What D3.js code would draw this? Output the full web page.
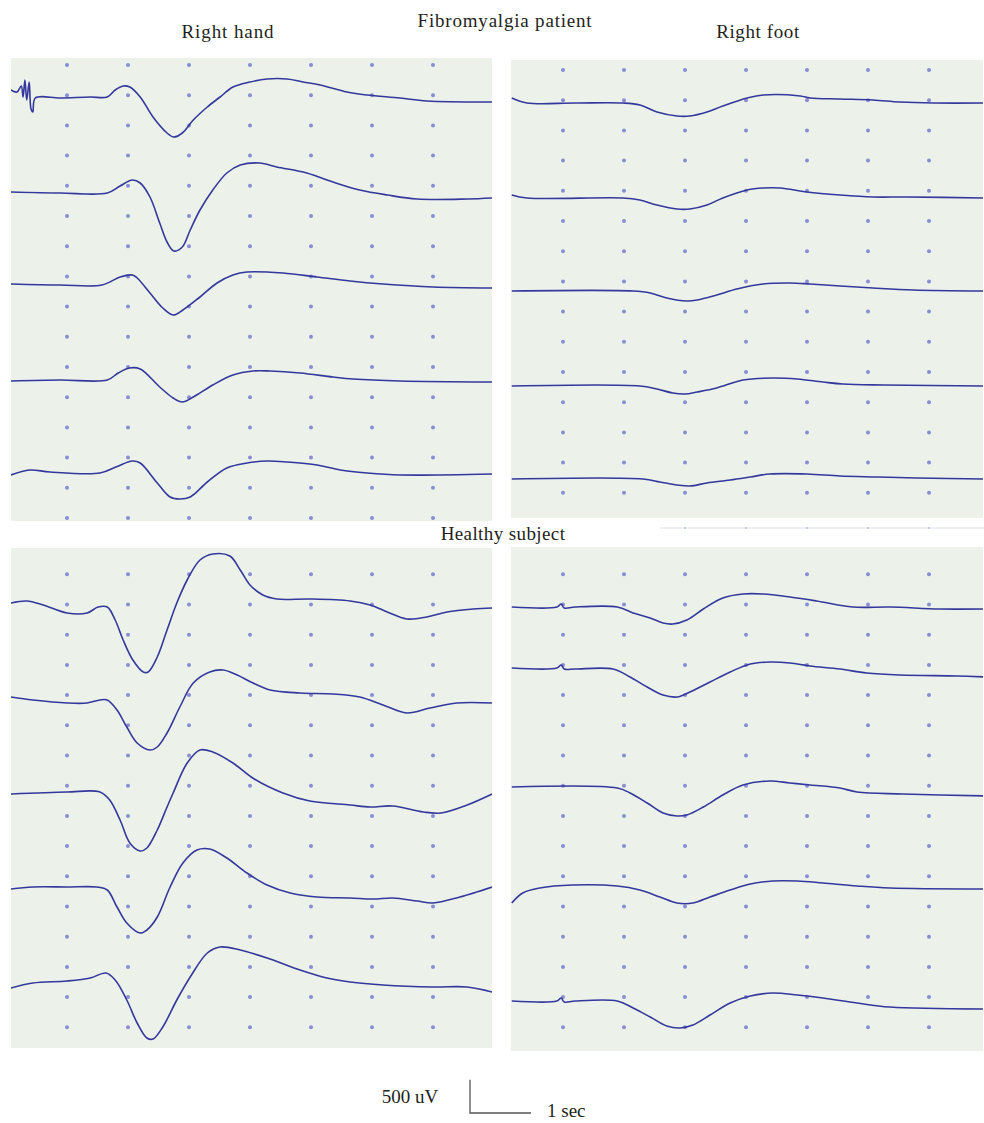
<!DOCTYPE html>
<html>
<head>
<meta charset="utf-8">
<script src="https://cdn.jsdelivr.net/npm/d3@7"></script>
<style>
  body { margin: 0; background: #ffffff; }
  text { font-family: "Liberation Serif", "Times New Roman", serif; fill: #231f20; }
</style>
</head>
<body>
<svg id="chart" width="984" height="1123"></svg>
<script>
// ---------------- DATA ----------------
// Each trace: [time (s), amplitude (uV)] relative to the channel baseline.
const gridSeconds = [1, 2, 3, 4, 5, 6, 7];

const groupTitles = ["Fibromyalgia patient", "Healthy subject"];
const siteTitles = ["Right hand", "Right foot"];
const scaleLabels = ["500 uV", "1 sec"];
const scaleValues = { uV: 500, sec: 1 };

// Fibromyalgia patient — right hand
const fmHand = [
  [[0.08,120],[0.18,90],[0.25,180],[0.28,15],[0.31,270],[0.34,-30],[0.38,240],[0.41,-165],[0.44,-210],[0.48,0],[0.89,0],[1.38,15],[1.66,15],[1.79,120],[1.92,180],[2.03,165],[2.2,15],[2.41,-285],[2.64,-525],[2.75,-585],[2.89,-525],[3.07,-330],[3.3,-135],[3.51,15],[3.72,165],[4.0,240],[4.28,285],[4.61,285],[4.87,240],[5.15,195],[5.59,90],[5.92,45],[6.46,0],[6.9,-45],[7.97,-60]],
  [[0.08,0],[0.89,-15],[1.66,-15],[1.87,90],[2.07,180],[2.2,135],[2.36,-75],[2.52,-465],[2.64,-750],[2.75,-885],[2.89,-825],[3.02,-570],[3.18,-270],[3.39,30],[3.62,285],[3.84,405],[4.16,435],[4.44,375],[4.93,285],[5.36,150],[5.8,30],[6.25,-45],[6.74,-105],[7.56,-105],[7.97,-90]],
  [[0.08,15],[0.89,0],[1.57,0],[1.87,120],[2.07,150],[2.15,105],[2.36,-120],[2.57,-345],[2.74,-450],[2.9,-375],[3.18,-180],[3.46,30],[3.72,150],[3.95,195],[4.54,180],[5.1,120],[5.64,60],[6.18,15],[7.0,-30],[7.97,-45]],
  [[0.08,-15],[0.89,0],[1.66,0],[1.84,105],[2.02,180],[2.2,165],[2.52,-105],[2.74,-270],[2.89,-330],[3.07,-255],[3.39,-75],[3.72,75],[4.05,135],[4.33,135],[4.82,105],[5.36,45],[5.69,15],[6.46,-15],[7.97,-30]],
  [[0.08,-45],[0.39,30],[0.72,0],[1.54,-15],[1.8,75],[2.07,165],[2.2,135],[2.48,-165],[2.69,-375],[2.85,-405],[3.02,-375],[3.3,-150],[3.62,60],[3.95,135],[4.28,165],[4.61,150],[5.1,105],[5.48,30],[5.92,-15],[6.46,-45],[7.97,-30]]
];

// Fibromyalgia patient — right foot
const fmFoot = [
  [[0.16,75],[0.41,0],[1.2,0],[1.98,0],[2.26,-30],[2.54,-135],[2.87,-195],[3.08,-195],[3.36,-135],[3.62,-45],[4.02,75],[4.28,120],[4.89,105],[5.05,75],[5.54,60],[6.08,45],[6.52,15],[7.07,0],[7.95,0]],
  [[0.16,45],[0.41,0],[1.98,0],[2.26,-30],[2.54,-105],[2.87,-165],[3.08,-165],[3.36,-105],[3.62,0],[4.02,120],[4.28,150],[4.56,150],[5.0,90],[5.54,45],[6.08,15],[6.62,15],[7.95,0]],
  [[0.16,0],[2.15,0],[2.43,-30],[2.7,-105],[3.03,-150],[3.2,-135],[3.52,-60],[3.85,30],[4.28,105],[4.72,120],[5.05,105],[5.54,75],[6.08,45],[6.74,15],[7.95,0]],
  [[0.16,0],[2.26,0],[2.54,-45],[2.8,-105],[3.0,-120],[3.2,-90],[3.52,-30],[3.95,90],[4.44,120],[4.84,105],[5.26,60],[5.59,30],[6.26,15],[7.95,0]],
  [[0.16,0],[2.31,0],[2.59,-45],[2.87,-90],[3.08,-105],[3.36,-60],[3.74,-15],[4.07,30],[4.39,75],[5.0,75],[5.54,45],[6.15,30],[6.8,15],[7.95,0]]
];

// Healthy subject — right hand
const hcHand = [
  [[0.08,0],[0.34,30],[0.61,-30],[1.0,-150],[1.33,-150],[1.51,-60],[1.66,-60],[1.79,-255],[1.92,-555],[2.08,-855],[2.25,-1035],[2.33,-1035],[2.48,-810],[2.64,-405],[2.8,0],[2.97,345],[3.18,645],[3.39,735],[3.67,705],[3.84,495],[4.0,270],[4.21,120],[4.44,60],[4.98,60],[5.64,30],[5.97,-30],[6.25,-135],[6.57,-240],[6.9,-210],[7.23,-135],[7.66,-90],[7.97,-75]],
  [[0.08,0],[0.44,-45],[1.0,-90],[1.33,-90],[1.54,-45],[1.66,-45],[1.82,-195],[1.98,-450],[2.15,-690],[2.36,-795],[2.48,-750],[2.64,-540],[2.85,-150],[3.07,210],[3.34,375],[3.56,405],[3.79,330],[4.05,210],[4.33,105],[4.82,60],[5.36,45],[5.8,0],[6.18,-120],[6.57,-240],[6.95,-165],[7.39,-90],[7.97,-90]],
  [[0.08,-15],[1.0,15],[1.54,15],[1.7,-105],[1.87,-405],[2.03,-750],[2.2,-870],[2.31,-825],[2.48,-555],[2.64,-210],[2.74,0],[2.97,450],[3.18,645],[3.39,615],[3.72,450],[4.07,210],[4.54,0],[4.98,-120],[5.64,-180],[5.97,-210],[6.34,-195],[6.84,-285],[7.13,-300],[7.56,-180],[7.97,-15]],
  [[0.08,-15],[0.44,15],[1.0,15],[1.49,15],[1.66,-30],[1.82,-285],[1.98,-525],[2.2,-675],[2.31,-630],[2.48,-435],[2.69,15],[2.9,375],[3.13,570],[3.34,585],[3.62,450],[3.95,225],[4.28,45],[4.66,-75],[5.1,-135],[5.64,-150],[6.02,-165],[6.34,-150],[6.74,-195],[7.0,-225],[7.44,-135],[7.97,15]],
  [[0.08,0],[0.44,75],[1.0,105],[1.38,150],[1.64,225],[1.79,120],[1.98,-180],[2.15,-525],[2.31,-750],[2.41,-765],[2.57,-585],[2.8,-180],[3.02,165],[3.3,525],[3.51,615],[3.84,570],[4.28,450],[4.82,270],[5.26,150],[5.64,90],[6.18,45],[7.0,15],[7.56,15],[7.97,-60]]
];

// Healthy subject — right foot
const hcFoot = [
  [[0.16,0],[0.9,0],[0.97,45],[1.02,-15],[1.2,0],[1.89,0],[2.15,-90],[2.43,-165],[2.64,-240],[2.8,-255],[3.03,-195],[3.3,-30],[3.62,135],[3.95,195],[4.28,195],[4.72,150],[5.16,90],[5.75,0],[6.36,0],[7.18,-30],[7.95,-30]],
  [[0.16,0],[0.9,0],[0.97,45],[1.02,-15],[1.2,-15],[1.82,-15],[2.1,-135],[2.38,-285],[2.64,-405],[2.87,-435],[3.08,-360],[3.41,-210],[3.74,-60],[4.07,60],[4.39,90],[4.72,75],[5.05,30],[5.54,-15],[5.98,-75],[6.52,-105],[7.46,-120],[7.95,-135]],
  [[0.16,0],[1.89,-15],[2.1,-90],[2.38,-240],[2.64,-390],[2.87,-435],[3.03,-420],[3.3,-300],[3.62,-120],[3.95,30],[4.39,90],[4.72,60],[5.05,30],[5.54,-15],[5.82,-75],[6.57,-105],[7.95,-135]],
  [[0.16,-255],[0.34,-105],[0.62,-30],[1.16,15],[1.89,0],[2.26,-60],[2.59,-165],[2.87,-255],[3.13,-255],[3.41,-165],[3.74,-60],[4.07,30],[4.44,75],[4.84,75],[5.26,45],[5.82,0],[6.36,-30],[7.95,-45]],
  [[0.16,0],[0.9,0],[0.97,45],[1.02,-15],[1.2,0],[1.89,0],[2.15,-105],[2.43,-240],[2.7,-375],[2.92,-405],[3.13,-360],[3.41,-210],[3.74,-30],[4.07,75],[4.44,120],[4.84,90],[5.26,45],[5.82,-30],[6.36,-90],[7.95,-120]]
];

// ---------------- LAYOUT ----------------
const PX_PER_SEC = 61;
const UV_PER_PX = 15;
const COLORS = { bg: "#ecf1ea", dot: "#8a8dd3", trace: "#34389c", text: "#231f20" };

const panels = [
  { traces: fmHand, rect: [11, 58, 481, 463],  x0: 6,   baselines: [98, 192, 285, 380, 472],  gridTop: 65,    gridN: 16 },
  { traces: fmFoot, rect: [511, 60, 472, 458], x0: 502, baselines: [103, 198, 291, 386, 479], gridTop: 70,    gridN: 15 },
  { traces: hcHand, rect: [11, 548, 481, 500], x0: 6,   baselines: [603, 697, 793, 888, 988], gridTop: 574.3, gridN: 16 },
  { traces: hcFoot, rect: [511, 547, 472, 504], x0: 502, baselines: [607, 668, 787, 886, 1001], gridTop: 574.3, gridN: 16 }
];
const GRID_STEP = 30.2;

const svg = d3.select("#chart");

panels.forEach((p, pi) => {
  const [rx, ry, rw, rh] = p.rect;
  const x = d3.scaleLinear().domain([0, 8]).range([p.x0, p.x0 + 8 * PX_PER_SEC]);
  const g = svg.append("g");

  const clipId = "clip" + pi;
  svg.append("clipPath").attr("id", clipId)
    .append("rect").attr("x", rx).attr("y", ry).attr("width", rw).attr("height", rh);

  g.append("rect").attr("x", rx).attr("y", ry).attr("width", rw).attr("height", rh)
    .attr("fill", COLORS.bg);

  // dot grid
  const rows = d3.range(p.gridN).map(i => p.gridTop + i * GRID_STEP);
  const dots = [];
  rows.forEach(ry2 => gridSeconds.forEach(s => dots.push([x(s), ry2])));
  g.append("g").selectAll("circle").data(dots).join("circle")
    .attr("cx", d => d[0]).attr("cy", d => d[1]).attr("r", 2)
    .attr("fill", COLORS.dot);

  // traces
  const tg = g.append("g").attr("clip-path", `url(#${clipId})`);
  p.traces.forEach((trace, ti) => {
    const base = p.baselines[ti];
    const y = d3.scaleLinear().domain([0, UV_PER_PX]).range([base, base - 1]);
    const line = d3.line().x(d => x(d[0])).y(d => y(d[1])).curve(d3.curveCatmullRom.alpha(0.5));
    tg.append("path").datum(trace).attr("d", line)
      .attr("fill", "none").attr("stroke", COLORS.trace)
      .attr("stroke-width", 1.6).attr("stroke-linejoin", "round");
  });
});

// faint strip of dots between right panels (as in the original scan)
{
  const x = d3.scaleLinear().domain([0, 8]).range([502, 502 + 8 * PX_PER_SEC]);
  svg.append("line").attr("x1", 660).attr("x2", 984).attr("y1", 528).attr("y2", 528)
    .attr("stroke", "#e6ebe8").attr("stroke-width", 1.5);
  svg.append("g").selectAll("circle").data([3, 4, 5, 6, 7]).join("circle")
    .attr("cx", d => x(d)).attr("cy", 528).attr("r", 0.9).attr("fill", "#b8bbe0");
}

// titles
const T = [
  { t: groupTitles[0], x: 505, y: 27, ls: 0.8 },
  { t: siteTitles[0], x: 228, y: 38, ls: 0.9 },
  { t: siteTitles[1], x: 758, y: 38, ls: 0.6 },
  { t: groupTitles[1], x: 503, y: 540, ls: 0.4 }
];
svg.append("g").selectAll("text").data(T).join("text")
  .attr("x", d => d.x).attr("y", d => d.y).attr("text-anchor", "middle")
  .attr("font-size", 19).attr("letter-spacing", d => d.ls).text(d => d.t);

// scale bar
{
  const sx = d3.scaleLinear().domain([0, 1]).range([0, PX_PER_SEC]);
  const sy = d3.scaleLinear().domain([0, UV_PER_PX]).range([0, 1]);
  const bx = 470, by = 1113;
  const w = sx(scaleValues.sec), h = sy(scaleValues.uV);
  svg.append("path")
    .attr("d", `M${bx},${by - h}V${by}H${bx + w}`)
    .attr("fill", "none").attr("stroke", "#555").attr("stroke-width", 1.3);
  svg.append("text").attr("x", 410).attr("y", 1103).attr("text-anchor", "middle")
    .attr("font-size", 19).text(scaleLabels[0]);
  svg.append("text").attr("x", 547).attr("y", 1117).attr("text-anchor", "start")
    .attr("font-size", 19).text(scaleLabels[1]);
}
</script>
</body>
</html>
